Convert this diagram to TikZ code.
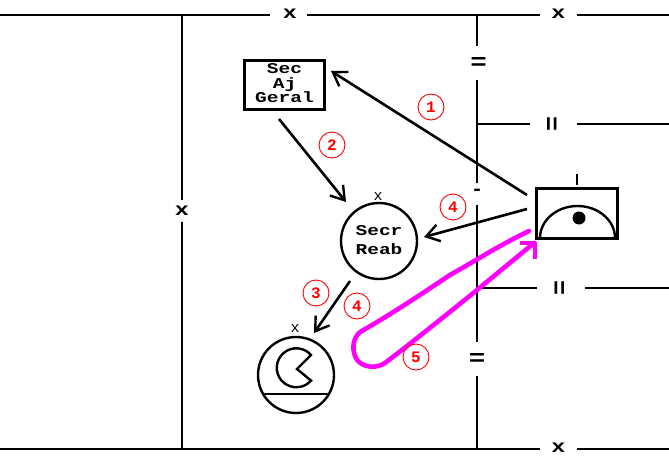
\documentclass[tikz,border=0pt]{standalone}
\usepackage{fontspec}
\usepackage{graphicx}
\setmainfont{Liberation Mono}
\usetikzlibrary{arrows.meta}
\definecolor{pinkline}{RGB}{255,0,255}
\newcommand{\wideb}[2][15]{\scalebox{1.3}[1]{\fontsize{#1}{12.5}\selectfont\bfseries #2}}
\tikzset{
  wire/.style={line width=2.6pt},
  wlabel/.style={inner sep=0pt,minimum width=#1,minimum height=22pt,text height=1pt},
  vlabel/.style={inner sep=0pt,minimum height=#1,minimum width=16pt},
  flow/.style={line width=2.6pt,-{Straight Barb[length=13pt,width=17pt,line width=2.4pt]}},
  num/.style={draw=red,circle,line width=0.9pt,minimum size=26pt,inner sep=0pt,text=red,font=\fontsize{16}{16}\selectfont\bfseries},
  person/.style={draw,line width=2.4pt,circle,minimum size=76pt,inner sep=0pt},
  smallx/.style={inner sep=0pt,font=\fontsize{15}{15}\selectfont},
  pink/.style={draw=pinkline,line width=4.6pt,line cap=round,line join=round}
}
\begin{document}
\begin{tikzpicture}[x=1pt,y=-1pt]
\useasboundingbox (0,0) rectangle (669,455);
% junction and free-end coordinates
\coordinate (tl) at (0,15);
\coordinate (tr) at (669,15);
\coordinate (bl) at (0,449);
\coordinate (br) at (669,449);
\coordinate (ltop) at (182,15);
\coordinate (lbot) at (182,449);
\coordinate (vtop) at (477,15);
\coordinate (vbot) at (477,449);
\coordinate (j1) at (477,124);
\coordinate (j2) at (477,288);
\coordinate (r1) at (669,124);
\coordinate (r2) at (669,288);
\coordinate (a1s) at (527,195);
\coordinate (a1e) at (331,71);
\coordinate (a2s) at (279,119);
\coordinate (a2e) at (346,202);
\coordinate (a3s) at (350,281);
\coordinate (a3e) at (314,333);
\coordinate (a4s) at (527,209);
\coordinate (a4e) at (424,237);
% labels on the wires
\node[wlabel=37pt] (x1) at (288.5,15) {\hspace{3pt}\raisebox{-5pt}{\wideb[18]{x}}};
\node[wlabel=37pt] (x2) at (558.5,15) {\raisebox{-5pt}{\wideb[18]{x}}};
\node[wlabel=37pt] (x3) at (558.5,449) {\raisebox{-5pt}{\wideb[18]{x}}};
\node[vlabel=22pt] (x4) at (182,211) {\wideb[18]{x}};
\node[vlabel=34pt] (eq1) at (477,63) {\hspace{3pt}\scalebox{1.25}[1.05]{\fontsize{22}{22}\selectfont\bfseries =}};
\node[vlabel=22pt] (d1) at (477,194) {\raisebox{3pt}{\fontsize{20}{20}\selectfont\bfseries -}};
\node[vlabel=34pt] (eq2) at (477,359) {\scalebox{1.25}[1.05]{\fontsize{22}{22}\selectfont\bfseries =}};
\node[inner sep=0pt,minimum width=47pt,minimum height=16pt] (h1) at (553.5,124) {\rotatebox{90}{\fontsize{25}{25}\selectfont\bfseries =}};
\node[inner sep=0pt,minimum width=48pt,minimum height=16pt] (h2) at (561,288) {\rotatebox{90}{\fontsize{25}{25}\selectfont\bfseries =}};
% wires
\draw[wire] (tl) -- (x1) -- (x2) -- (tr);
\draw[wire] (bl) -- (x3) -- (br);
\draw[wire] (ltop) -- (x4) -- (lbot);
\draw[wire] (vtop) -- (eq1) -- (d1) -- (eq2) -- (vbot);
\draw[wire] (j1) -- (h1) -- (r1);
\draw[wire] (j2) -- (h2) -- (r2);
% boxes and circles
\node[draw,line width=2.4pt,minimum width=80pt,minimum height=49pt,inner sep=0pt] (sec) at (284.5,85) {\scalebox{1.3}[1]{\fontsize{15}{12.5}\selectfont\bfseries\begin{tabular}{@{}c@{}}Sec\\Aj\\Geral\end{tabular}}};
\node[person] (secr) at (379,241) {\scalebox{1.3}[1]{\fontsize{15}{19}\selectfont\bfseries\begin{tabular}{@{}c@{}}Secr\\Reab\end{tabular}}};
\node[person] (pac) at (296,375) {};
\node[smallx] (xs) at (378,197) {x};
\node[smallx] (xp) at (295,329) {x};
\draw[line width=2.4pt] (263,394) -- (329,394);
\draw[line width=2.4pt,line join=miter] (311,355) arc[start angle=-41,end angle=-319,radius=19.5] -- (297,369) -- cycle;
% right box
\node[draw,line width=2.4pt,minimum width=81pt,minimum height=50pt,inner sep=0pt] (rbox) at (577,213.5) {};
\node[inner sep=0pt,minimum width=2.4pt,minimum height=11pt,fill] (tick) at (577,179.5) {};
\draw[line width=2.4pt] (540,238) arc[start angle=180,end angle=360,x radius=37.5,y radius=32];
\node[circle,fill,inner sep=0pt,minimum size=13pt] (dot) at (579,218) {};
% arrows
\draw[flow] (a1s) -- (a1e);
\draw[flow] (a2s) -- (a2e);
\draw[flow] (a3s) -- (a3e);
\draw[flow] (a4s) -- (a4e);
% magenta stroke
\draw[pink] (529,231) .. controls (500,245) and (480,258) .. (450,275) .. controls (420,295) and (390,315) .. (360,332) .. controls (353,338) and (352,348) .. (355,356) .. controls (358,365) and (372,371) .. (385,363) .. controls (410,344) and (450,312) .. (477,290) -- (534,243);
\draw[pink,line cap=butt] (520,243) -- (535,243) -- (535,259);
% numbers
\node[num] (n1) at (431,107) {1};
\node[num] (n2) at (332,145) {2};
\node[num] (n3) at (316,293) {3};
\node[num] (n4) at (453,207) {4};
\node[num] (n4b) at (357,306) {4};
\node[num] (n5) at (416,357) {5};
\end{tikzpicture}
\end{document}
